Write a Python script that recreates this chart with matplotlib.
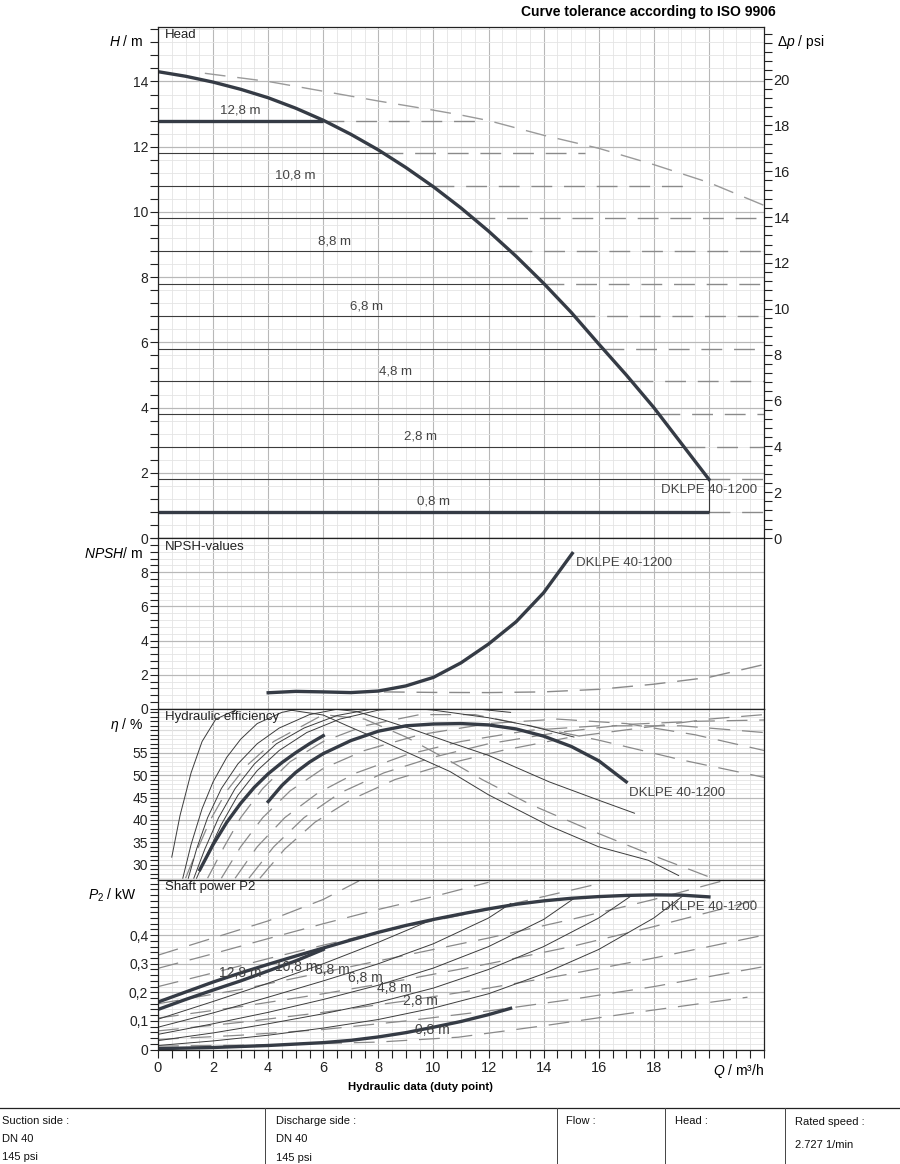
import numpy as np
import matplotlib.pyplot as plt
from matplotlib.ticker import MultipleLocator, FixedLocator, FuncFormatter

plt.rcParams['font.family'] = ['Liberation Sans', 'DejaVu Sans']
plt.rcParams['mathtext.fontset'] = 'custom'
plt.rcParams['mathtext.rm'] = 'Liberation Sans'
plt.rcParams['mathtext.it'] = 'Liberation Sans:italic'
plt.rcParams['lines.scale_dashes'] = False

# ---------------- data ----------------
# head panel: constant head lines and where they meet the max curve
levels = [12.8, 11.8, 10.8, 9.8, 8.8, 7.8, 6.8, 5.8, 4.8, 3.8, 2.8, 1.8, 0.8]
q_cross = [6.0, 8.15, 9.97, 11.49, 12.81, 13.99, 15.11, 16.14, 17.22, 18.19, 19.09, 20.0, 20.0]
q_dash_end = [11.8, 15.5, 19.2, 22, 22, 22, 22, 22, 22, 22, 22, 22, 22]
level_text = {12.8: '12,8 m', 10.8: '10,8 m', 8.8: '8,8 m', 6.8: '6,8 m',
              4.8: '4,8 m', 2.8: '2,8 m', 0.8: '0,8 m'}

q_max = [0, 1, 2, 3, 4, 5, 6, 7, 8, 9, 10, 11, 12, 13, 14, 15, 16, 17, 18, 19, 20]
h_max = [14.3, 14.16, 13.98, 13.76, 13.5, 13.18, 12.81, 12.38, 11.9, 11.36, 10.77,
         10.12, 9.41, 8.64, 7.81, 6.92, 5.95, 5.0, 4.0, 2.9, 1.8]

q_tol = [1.7, 4, 6, 8, 10, 11, 12, 14, 16, 18, 20, 22]
h_tol = [14.25, 14.0, 13.7, 13.4, 13.12, 12.97, 12.8, 12.35, 11.95, 11.45, 10.9, 10.2]

# NPSH
q_npsh = [4, 5, 6, 7, 8, 9, 10, 11, 12, 13, 14, 15.04]
npsh = [0.95, 1.03, 1.0, 0.96, 1.05, 1.35, 1.85, 2.7, 3.8, 5.1, 6.8, 9.1]
q_npsh_d = [8.2, 10, 12, 14, 16, 18, 20, 22]
npsh_d = [1.0, 0.97, 0.96, 1.0, 1.15, 1.45, 1.85, 2.6]

# hydraulic efficiency
q_eta_max = [4, 4.5, 5, 5.5, 6, 7, 8, 9, 10, 11, 12, 13, 14, 15, 16, 17]
eta_max = [44.1, 47.7, 50.6, 52.9, 54.8, 57.7, 59.8, 61.0, 61.4, 61.5, 61.2, 60.3, 58.7, 56.4, 53.2, 48.5]
q_eta_128 = [1.52, 2, 2.5, 3, 3.5, 4, 4.5, 5, 5.5, 6]
eta_128 = [28.9, 34.5, 39.5, 43.7, 47.3, 50.3, 52.8, 55.0, 57.0, 58.8]

eta_thin = [
    ([0.5, 0.8, 1.2, 1.6, 2.1, 3.0, 4.0, 4.7, 6.0, 6.8, 8.0, 9.0, 10.6, 12.0, 14.2, 16.0, 17.8, 18.9],
     [31.7, 41.0, 50.5, 57.5, 62.5, 65.0, 65.2, 64.6, 63.4, 61.2, 58.0, 55.2, 50.8, 45.6, 38.7, 34.0, 31.0, 27.6]),
    ([0.9, 1.2, 1.6, 2.0, 2.5, 3.0, 3.6, 4.5, 5.5, 7.2, 8.0, 9.2, 10.5, 12.0, 14.2, 16.0, 17.3],
     [27.0, 34.5, 42.5, 48.5, 54.0, 58.0, 61.5, 64.0, 65.3, 64.2, 62.7, 60.3, 57.5, 54.4, 48.5, 44.4, 41.5]),
    ([1.1, 1.4, 1.8, 2.3, 2.9, 3.6, 4.4, 5.5, 7.0, 8.5, 10, 12, 13.5, 15.1],
     [27, 33.5, 40.5, 47, 52.5, 57, 60.5, 63.5, 65.3, 65.3, 64.5, 62.8, 61.0, 58.5]),
    ([1.3, 1.7, 2.2, 2.8, 3.5, 4.3, 5.3, 6.5, 8.0, 10, 11.5, 12.8],
     [27, 33.5, 40.5, 47, 52.5, 57, 60.5, 63.3, 65, 65.3, 64.8, 64.0]),
    ([1.4, 1.8, 2.3, 2.9, 3.6, 4.4, 5.4, 6.6, 8.0, 10.0],
     [27, 32.5, 39, 45.5, 51, 55.5, 59.5, 62.5, 64.5, 65.3]),
]
eta_dash = [
    ([1.0, 1.4, 1.9, 2.5, 3.2, 4.2, 6.0, 7.5, 9.0, 10.5, 11.8, 13.5, 15.7, 18.0, 20.0, 22.0],
     [27, 33, 40, 46.5, 52, 57.5, 63.5, 62.5, 58.5, 53.5, 48.9, 43.5, 37.7, 32.0, 27.3, 23.0]),
    ([1.8, 2.4, 3.0, 3.8, 4.8, 6.0, 7.5, 9.5, 11.5, 13.5, 16.0, 19.0, 22.0],
     [27, 34, 40.5, 47, 53, 57.5, 61, 63.5, 63.5, 61.0, 57.8, 53.4, 49.5]),
    ([2.3, 3.0, 3.8, 4.8, 6.0, 7.5, 9.5, 12, 14.5, 17, 19.5, 22],
     [27, 34, 40.5, 46.5, 51.5, 55.5, 59, 61.5, 62.5, 61.5, 59, 55.5]),
    ([2.8, 3.6, 4.6, 5.8, 7.2, 9, 11, 13.5, 16, 19, 22],
     [27, 34, 40.5, 46, 50.5, 54.5, 57.5, 60, 61, 61, 59.5]),
    ([3.3, 4.2, 5.3, 6.6, 8.2, 10, 12, 14.5, 17, 19.5, 22],
     [27, 34, 40.5, 46, 50.5, 54, 57, 59.5, 61.3, 62, 62.3]),
    ([3.7, 4.6, 5.7, 7, 8.6, 10.5, 12.5, 15, 17.5, 20, 22],
     [27, 33.5, 39.5, 44.5, 49, 52.5, 55.5, 58.5, 60.5, 62.5, 63.5]),
]

# shaft power
q_p_max = [0, 1, 2, 3, 4, 5, 6, 7, 8, 9, 10, 11, 12, 13, 14, 15, 16, 17, 18, 19, 20]
p_max = [0.166, 0.201, 0.236, 0.268, 0.298, 0.327, 0.355, 0.383, 0.41, 0.434, 0.455, 0.474,
         0.492, 0.508, 0.52, 0.529, 0.535, 0.539, 0.541, 0.54, 0.534]
q_p_128 = [0, 1, 2, 3, 4, 5, 6]
p_128 = [0.14, 0.175, 0.208, 0.24, 0.275, 0.31, 0.35]
q_p_08 = [0, 2, 4, 6, 7, 8, 9, 10, 11, 12, 12.8]
p_08 = [0.003, 0.007, 0.014, 0.024, 0.032, 0.044, 0.059, 0.078, 0.098, 0.122, 0.144]
p_thin = [
    ([0, 2, 4, 6, 8, 9.97], [0.106, 0.168, 0.232, 0.3, 0.375, 0.455]),
    ([0, 2, 4, 6, 8, 10, 12, 12.81], [0.078, 0.128, 0.183, 0.24, 0.3, 0.37, 0.46, 0.511]),
    ([0, 2, 4, 6, 8, 10, 12, 14, 15.11], [0.053, 0.09, 0.13, 0.175, 0.225, 0.285, 0.36, 0.455, 0.529]),
    ([0, 2, 4, 6, 8, 10, 12, 14, 16, 17.22], [0.031, 0.058, 0.09, 0.125, 0.165, 0.215, 0.28, 0.36, 0.46, 0.54]),
    ([0, 2, 4, 6, 8, 10, 12, 14, 16, 18, 19.09], [0.014, 0.03, 0.05, 0.075, 0.105, 0.145, 0.195, 0.265, 0.35, 0.46, 0.54]),
]
p_dash = [
    ([0, 2, 4, 6, 7.3], [0.33, 0.39, 0.45, 0.525, 0.59]),
    ([0, 2, 4, 6, 8, 10, 12], [0.284, 0.335, 0.388, 0.44, 0.49, 0.535, 0.585]),
    ([0, 2, 4, 6, 8, 10, 12, 14, 16], [0.22, 0.268, 0.318, 0.365, 0.41, 0.45, 0.49, 0.535, 0.58]),
    ([0, 3, 6, 9, 12, 15, 18, 20.5], [0.16, 0.21, 0.27, 0.33, 0.39, 0.455, 0.525, 0.59]),
    ([0, 3, 6, 9, 12, 15, 18, 22], [0.11, 0.15, 0.195, 0.245, 0.3, 0.36, 0.43, 0.53]),
    ([0, 3, 6, 9, 12, 15, 18, 22], [0.065, 0.095, 0.13, 0.17, 0.215, 0.265, 0.32, 0.4]),
    ([0, 3, 6, 9, 12, 15, 18, 22], [0.035, 0.05, 0.07, 0.1, 0.135, 0.175, 0.22, 0.29]),
    ([0, 4, 8, 10.9, 14, 17, 21.4], [0.012, 0.016, 0.026, 0.043, 0.083, 0.125, 0.183]),
]
p_label_pos = [(2.97, 0.267, '12,8 m'), (5.0, 0.288, '10,8 m'), (6.34, 0.277, '8,8 m'),
               (7.54, 0.249, '6,8 m'), (8.59, 0.214, '4,8 m'), (9.53, 0.168, '2,8 m'),
               (9.96, 0.067, '0,8 m')]

# ---------------- styles ----------------
DARK = '#353b45'
THIN = '#3c3c3c'
DASH = '#8a8a8a'
TXT = '#444444'
DASHES = (15, 8.5)
FS = 9.5
TICK_FS = 10

W_PX, H_PX = 900, 1164
fig = plt.figure(figsize=(W_PX / 100, H_PX / 100), dpi=100)


def fx(x):
    return x / W_PX


def fy(y):
    return 1 - y / H_PX


def box(top, bot):
    return [fx(158), fy(bot), fx(764) - fx(158), (bot - top) / H_PX]


def base(ax, ymin, ymax, ymaj, ymin_step, labels):
    ax.set_xlim(0, 22)
    ax.set_ylim(ymin, ymax)
    ax.xaxis.set_major_locator(FixedLocator(np.arange(0, 21, 2)))
    ax.xaxis.set_minor_locator(MultipleLocator(0.5))
    ax.yaxis.set_major_locator(FixedLocator(labels))
    ax.yaxis.set_minor_locator(MultipleLocator(ymin_step))
    ax.grid(which='minor', color='#e4e4e4', lw=0.6)
    ax.grid(which='major', color='#b8b8b8', lw=0.8)
    for g in np.arange(np.ceil(ymin / ymaj) * ymaj, ymax, ymaj):
        ax.axhline(g, color='#b8b8b8', lw=0.8, zorder=0.5)
    ax.set_axisbelow(True)
    ax.tick_params(axis='x', which='both', length=0, labelbottom=False)
    ax.tick_params(axis='y', which='both', direction='out', length=5.5, width=0.8,
                   labelsize=TICK_FS, colors='#222222', pad=1.5)
    for s in ax.spines.values():
        s.set_color('#222222')
        s.set_linewidth(0.9)


ax_h = fig.add_axes(box(27, 538))
ax_n = fig.add_axes(box(538, 709))
ax_e = fig.add_axes(box(709, 880))
ax_p = fig.add_axes(box(880, 1049.5))

base(ax_h, 0, 15.67, 2, 0.4, np.arange(0, 15, 2))
base(ax_n, 0, 10, 2, 0.4, np.arange(0, 9, 2))
base(ax_e, 26.6, 64.75, 5, 1, np.arange(30, 56, 5))
base(ax_p, 0, 0.593, 0.1, 0.02, [0, 0.1, 0.2, 0.3, 0.4])

ax_p.yaxis.set_major_formatter(FuncFormatter(lambda v, p: '0' if v == 0 else ('%.1f' % v).replace('.', ',')))
ax_p.xaxis.set_major_locator(FixedLocator(np.arange(0, 19, 2)))
ax_p.xaxis.set_minor_locator(FixedLocator(np.arange(0, 22.01, 0.5)))
ax_p.tick_params(axis='x', which='both', direction='out', length=5.5, width=0.8,
                 labelbottom=True, labelsize=TICK_FS + 0.5, colors='#222222', pad=3)
ax_p.axvline(20, color='#b8b8b8', lw=0.8, zorder=0.5)

# psi axis
ax_psi = ax_h.twinx()
ax_psi.set_ylim(0, 15.67 / 0.70307)
ax_psi.yaxis.set_major_locator(FixedLocator(np.arange(0, 21, 2)))
ax_psi.yaxis.set_minor_locator(MultipleLocator(0.4))
ax_psi.tick_params(axis='y', which='both', direction='out', length=5.5, width=0.8,
                   labelsize=TICK_FS + 0.5, colors='#222222', pad=1.5)
for s in ax_psi.spines.values():
    s.set_visible(False)

# ---------------- head ----------------
ax_h.plot(q_tol, h_tol, color='#9a9a9a', lw=1.0, dashes=DASHES)
for lev, qc, qe in zip(levels, q_cross, q_dash_end):
    thick = lev in (12.8, 0.8)
    ax_h.plot([0, qc], [lev, lev], color=DARK if thick else THIN,
              lw=2.4 if thick else 0.8, solid_capstyle='butt')
    ax_h.plot([qc, qe], [lev, lev], color=DASH, lw=1.0, dashes=DASHES)
    if lev in level_text:
        ax_h.text(qc / 2, lev + 0.12, level_text[lev], ha='center', va='bottom',
                  fontsize=FS, color=TXT)
ax_h.plot([20, 20], [0.8, 1.8], color=THIN, lw=0.8)
ax_h.plot(q_max, h_max, color=DARK, lw=2.4)
ax_h.text(18.26, 1.47, 'DKLPE 40-1200', fontsize=FS, color=TXT, va='center')

# ---------------- NPSH ----------------
ax_n.plot(q_npsh_d, npsh_d, color=DASH, lw=1.0, dashes=DASHES)
ax_n.plot(q_npsh, npsh, color=DARK, lw=2.4)
ax_n.text(15.18, 8.54, 'DKLPE 40-1200', fontsize=FS, color=TXT, va='center')

# ---------------- efficiency ----------------
for q, e in eta_dash:
    ax_e.plot(q, e, color=DASH, lw=0.9, dashes=DASHES)
for q, e in eta_thin:
    ax_e.plot(q, e, color=THIN, lw=0.7)
ax_e.plot(q_eta_128, eta_128, color=DARK, lw=2.4)
ax_e.plot(q_eta_max, eta_max, color=DARK, lw=2.4)
ax_e.text(17.1, 46.0, 'DKLPE 40-1200', fontsize=FS, color=TXT, va='center')

# ---------------- power ----------------
for q, p in p_dash:
    ax_p.plot(q, p, color=DASH, lw=0.9, dashes=DASHES)
for q, p in p_thin:
    ax_p.plot(q, p, color=THIN, lw=0.7)
ax_p.plot(q_p_08, p_08, color=DARK, lw=2.4)
ax_p.plot(q_p_128, p_128, color=DARK, lw=2.4)
ax_p.plot(q_p_max, p_max, color=DARK, lw=2.4)
for q, p, t in p_label_pos:
    ax_p.text(q, p, t, ha='center', va='center', fontsize=FS + 0.5, color=TXT)
ax_p.text(18.26, 0.498, 'DKLPE 40-1200', fontsize=FS, color=TXT, va='center')

# ---------------- panel titles / axis labels ----------------
for y, t in [(35, 'Head'), (547, 'NPSH-values'), (717, 'Hydraulic efficiency'), (887, 'Shaft power P2')]:
    fig.text(fx(165), fy(y), t, fontsize=FS, va='center', color='#222222')

fig.text(fx(143), fy(41), r'$\it{H}$ / m', ha='right', va='center', fontsize=TICK_FS)
fig.text(fx(143), fy(553), r'$\it{NPSH}$/ m', ha='right', va='center', fontsize=TICK_FS)
fig.text(fx(143), fy(725), r'$\it{\eta}$ / %', ha='right', va='center', fontsize=TICK_FS)
fig.text(fx(137), fy(895), r'$\it{P}_{2}$ / kW', ha='right', va='center', fontsize=TICK_FS)
fig.text(fx(777), fy(42), r'$\Delta\it{p}$ / psi', ha='left', va='center', fontsize=TICK_FS)
fig.text(fx(764), fy(1071), r'$\it{Q}$ / m³/h', ha='right', va='center', fontsize=TICK_FS)
fig.text(fx(421), fy(1087), 'Hydraulic data (duty point)', ha='center', va='center',
         fontsize=8.2, fontweight='bold')
fig.text(fx(776), fy(12), 'Curve tolerance according to ISO 9906', ha='right', va='center',
         fontsize=10, fontweight='bold')

# ---------------- bottom table ----------------
fig.add_artist(plt.Line2D([0, 1], [fy(1108), fy(1108)], color='#222222', lw=0.9))
for xv in [265, 557, 665, 785]:
    fig.add_artist(plt.Line2D([fx(xv), fx(xv)], [fy(1108), 0], color='#444444', lw=0.7))
cells = [(2, 1121, 'Suction side :'), (2, 1139, 'DN 40'), (2, 1157, '145 psi'),
         (276, 1121, 'Discharge side :'), (276, 1139, 'DN 40'), (276, 1158, '145 psi'),
         (566, 1121, 'Flow :'), (675, 1121, 'Head :'),
         (795, 1122, 'Rated speed :'), (795, 1145, '2.727 1/min')]
for xv, yv, t in cells:
    fig.text(fx(xv), fy(yv), t, fontsize=8, va='center', color='#111111')

fig.savefig('out.png', dpi=100)
